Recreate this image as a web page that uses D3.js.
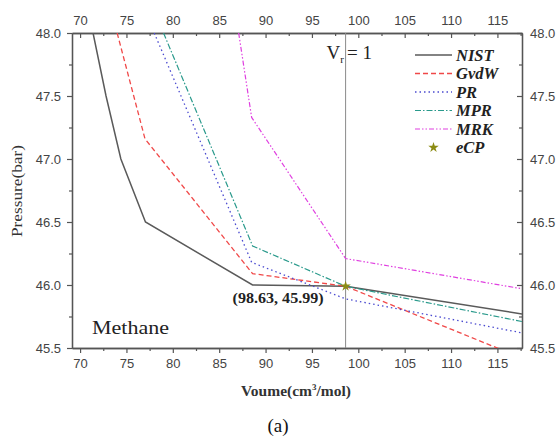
<!DOCTYPE html>
<html>
<head>
<meta charset="utf-8">
<script src="https://cdn.jsdelivr.net/npm/d3@7"></script>
<style>
  html, body { margin: 0; padding: 0; background: #fff; }
  svg { display: block; }
</style>
</head>
<body>
<div id="chart"></div>
<script>
// Methane isotherm near the critical point: NIST data vs. four equations of state
const seriesNames = ["NIST", "GvdW", "PR", "MPR", "MRK"];

const nistVolume = [71.4, 72.8, 74.4, 77.05, 88.6, 98.63, 117.65];
const nistPressure = [48.0, 47.5, 47.0, 46.5, 46.0, 45.99, 45.77];

const gvdwVolume = [74.0, 77.0, 88.6, 98.63, 117.65];
const gvdwPressure = [48.0, 47.16, 46.09, 45.99, 45.42];

const prVolume = [78.0, 88.5, 98.63, 117.65];
const prPressure = [48.0, 46.18, 45.89, 45.62];

const mprVolume = [79.0, 88.6, 98.63, 117.65];
const mprPressure = [48.0, 46.31, 45.99, 45.71];

const mrkVolume = [87.1, 88.5, 98.63, 117.65];
const mrkPressure = [48.0, 47.33, 46.21, 45.97];

// experimental critical point
const ecpVolume = 98.63;
const ecpPressure = 45.99;

const xTicks = [70, 75, 80, 85, 90, 95, 100, 105, 110, 115];
const xMinorTicks = [72.5, 77.5, 82.5, 87.5, 92.5, 97.5, 102.5, 107.5, 112.5, 117.5];
const yTicks = [45.5, 46.0, 46.5, 47.0, 47.5, 48.0];
const yMinorTicks = [45.75, 46.25, 46.75, 47.25, 47.75];

const W = 560, H = 439;
const plot = { left: 72, right: 522, top: 33, bottom: 348 };

const svg = d3.select("#chart").append("svg")
  .attr("width", W).attr("height", H)
  .style("background", "#fff");

const x = d3.scaleLinear().domain([69.13, 117.65]).range([plot.left, plot.right]);
const y = d3.scaleLinear().domain([45.5, 48.0]).range([plot.bottom, plot.top]);

const axisColor = "#555";
const labelColor = "#444";
const tickFont = "'Liberation Sans', Arial, sans-serif";
const serif = "'Liberation Serif', 'Times New Roman', serif";

function styleAxis(g) {
  g.select(".domain").attr("stroke", axisColor).attr("stroke-width", 1.3);
  g.selectAll(".tick line").attr("stroke", axisColor).attr("stroke-width", 1.2);
  g.selectAll(".tick text")
    .attr("fill", labelColor)
    .style("font-family", tickFont)
    .style("font-size", "13px");
}

// bottom: ticks outward
svg.append("g").attr("transform", `translate(0,${plot.bottom})`)
  .call(d3.axisBottom(x).tickValues(xTicks).tickFormat(d3.format("d"))
    .tickSizeInner(5).tickSizeOuter(0).tickPadding(6))
  .call(styleAxis);
svg.append("g").attr("transform", `translate(0,${plot.bottom})`)
  .call(d3.axisBottom(x).tickValues(xMinorTicks).tickFormat("")
    .tickSizeInner(3).tickSizeOuter(0))
  .call(styleAxis);

// top: ticks inward, labels above
svg.append("g").attr("transform", `translate(0,${plot.top})`)
  .call(d3.axisTop(x).tickValues(xTicks).tickFormat(d3.format("d"))
    .tickSizeInner(-5).tickSizeOuter(0).tickPadding(8))
  .call(styleAxis);
svg.append("g").attr("transform", `translate(0,${plot.top})`)
  .call(d3.axisTop(x).tickValues(xMinorTicks).tickFormat("")
    .tickSizeInner(-3).tickSizeOuter(0))
  .call(styleAxis);

// left: ticks outward
svg.append("g").attr("transform", `translate(${plot.left},0)`)
  .call(d3.axisLeft(y).tickValues(yTicks).tickFormat(d3.format(".1f"))
    .tickSizeInner(5).tickSizeOuter(0).tickPadding(6))
  .call(styleAxis);
svg.append("g").attr("transform", `translate(${plot.left},0)`)
  .call(d3.axisLeft(y).tickValues(yMinorTicks).tickFormat("")
    .tickSizeInner(3).tickSizeOuter(0))
  .call(styleAxis);

// right: ticks inward, labels outside
svg.append("g").attr("transform", `translate(${plot.right},0)`)
  .call(d3.axisRight(y).tickValues(yTicks).tickFormat(d3.format(".1f"))
    .tickSizeInner(-5).tickSizeOuter(0).tickPadding(8))
  .call(styleAxis);
svg.append("g").attr("transform", `translate(${plot.right},0)`)
  .call(d3.axisRight(y).tickValues(yMinorTicks).tickFormat("")
    .tickSizeInner(-3).tickSizeOuter(0))
  .call(styleAxis);

// clip region for the curves
svg.append("clipPath").attr("id", "plot-clip")
  .append("rect")
  .attr("x", plot.left).attr("y", plot.top)
  .attr("width", plot.right - plot.left).attr("height", plot.bottom - plot.top);

// reduced volume Vr = 1 marker line
svg.append("line")
  .attr("x1", x(ecpVolume)).attr("x2", x(ecpVolume))
  .attr("y1", plot.top).attr("y2", plot.bottom)
  .attr("stroke", "#8a8a8a").attr("stroke-width", 1);

const series = [
  { name: seriesNames[0], vol: nistVolume, p: nistPressure, color: "#5a5a5a", width: 1.5, dash: null },
  { name: seriesNames[1], vol: gvdwVolume, p: gvdwPressure, color: "#f04848", width: 1.3, dash: "5,3" },
  { name: seriesNames[2], vol: prVolume,   p: prPressure,   color: "#4b4bd0", width: 1.3, dash: "1.5,3" },
  { name: seriesNames[3], vol: mprVolume,  p: mprPressure,  color: "#2a9a8c", width: 1.2, dash: "6,2,1.5,2" },
  { name: seriesNames[4], vol: mrkVolume,  p: mrkPressure,  color: "#e040e0", width: 1.2, dash: "5,2,1.5,2,1.5,2" }
];

const line = d3.line().x(d => x(d[0])).y(d => y(d[1]));

const curves = svg.append("g").attr("clip-path", "url(#plot-clip)");
series.forEach(s => {
  curves.append("path")
    .datum(s.vol.map((v, i) => [v, s.p[i]]))
    .attr("d", line)
    .attr("fill", "none")
    .attr("stroke", s.color)
    .attr("stroke-width", s.width)
    .attr("stroke-dasharray", s.dash);
});

const star = d3.symbol().type(d3.symbolStar);
const ecpColor = "#8c8c14";
svg.append("path")
  .attr("d", star.size(34)())
  .attr("transform", `translate(${x(ecpVolume)},${y(ecpPressure)})`)
  .attr("fill", ecpColor);

// critical point annotation
svg.append("text")
  .attr("x", x(ecpVolume) - 22).attr("y", y(ecpPressure) + 17)
  .attr("text-anchor", "end")
  .style("font-family", serif).style("font-weight", "bold").style("font-size", "14px")
  .attr("fill", "#222")
  .attr("textLength", 91).attr("lengthAdjust", "spacingAndGlyphs")
  .text(`(${ecpVolume.toFixed(2)}, ${ecpPressure.toFixed(2)})`);

// Vr = 1 label
const vr = svg.append("text")
  .attr("x", x(ecpVolume) - 19).attr("y", 59)
  .style("font-family", serif).style("font-size", "19px")
  .attr("fill", "#222");
vr.append("tspan").text("V");
vr.append("tspan").attr("dy", 4).style("font-size", "11px").text("r");
vr.append("tspan").attr("dy", -4).attr("dx", 3).text("= 1");

// substance label
svg.append("text")
  .attr("x", 92).attr("y", 334)
  .style("font-family", serif).style("font-size", "19px")
  .attr("fill", "#222")
  .attr("textLength", 77).attr("lengthAdjust", "spacingAndGlyphs")
  .text("Methane");

// legend
const legend = svg.append("g");
const legX0 = 415, legX1 = 452, legTop = 55, legStep = 18.5;
series.forEach((s, i) => {
  const ly = legTop + i * legStep;
  legend.append("line")
    .attr("x1", legX0).attr("x2", legX1).attr("y1", ly).attr("y2", ly)
    .attr("stroke", s.color).attr("stroke-width", s.width)
    .attr("stroke-dasharray", s.dash);
  legend.append("text")
    .attr("x", legX1 + 4).attr("y", ly + 5.5)
    .style("font-family", serif).style("font-weight", "bold").style("font-style", "italic")
    .style("font-size", "16.5px").attr("fill", "#222")
    .text(s.name);
});
{
  const ly = legTop + series.length * legStep;
  legend.append("path")
    .attr("d", star.size(34)())
    .attr("transform", `translate(${(legX0 + legX1) / 2},${ly})`)
    .attr("fill", ecpColor);
  legend.append("text")
    .attr("x", legX1 + 4).attr("y", ly + 5.5)
    .style("font-family", serif).style("font-weight", "bold").style("font-style", "italic")
    .style("font-size", "16.5px").attr("fill", "#222")
    .text("eCP");
}

// axis titles
const xt = svg.append("text")
  .attr("x", 296).attr("y", 396)
  .attr("text-anchor", "middle")
  .style("font-family", serif).style("font-weight", "bold").style("font-size", "15.5px")
  .attr("fill", "#333");
xt.append("tspan").text("Voume(cm");
xt.append("tspan").attr("dy", -6).style("font-size", "9px").text("3");
xt.append("tspan").attr("dy", 6).text("/mol)");

svg.append("text")
  .attr("transform", "translate(22,191) rotate(-90)")
  .attr("text-anchor", "middle")
  .style("font-family", serif).style("font-size", "15px")
  .attr("fill", "#333")
  .attr("textLength", 92).attr("lengthAdjust", "spacingAndGlyphs")
  .text("Pressure(bar)");

// panel caption
svg.append("text")
  .attr("x", 278).attr("y", 432)
  .attr("text-anchor", "middle")
  .style("font-family", serif).style("font-size", "19px")
  .attr("fill", "#111")
  .text("(a)");
</script>
</body>
</html>
